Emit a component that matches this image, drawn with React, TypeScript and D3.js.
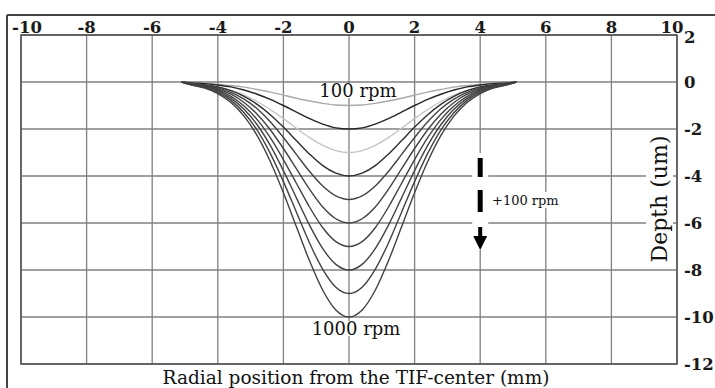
import React from "react";
import * as d3 from "d3";

// Radial sample positions (mm)
const radialPos = [-5.1, -4.8, -4.4, -4.0, -3.6, -3.2, -2.8, -2.4, -2.0, -1.6, -1.2, -0.8, -0.4, 0, 0.4, 0.8, 1.2, 1.6, 2.0, 2.4, 2.8, 3.2, 3.6, 4.0, 4.4, 4.8, 5.1];

// Removal depth (um) per spindle speed
const rpmLabels = ["100 rpm", "200 rpm", "300 rpm", "400 rpm", "500 rpm", "600 rpm", "700 rpm", "800 rpm", "900 rpm", "1000 rpm"];
const d100 = [0, 0.03, 0.06, 0.10, 0.15, 0.22, 0.32, 0.43, 0.56, 0.69, 0.81, 0.91, 0.98, 1.00, 0.98, 0.91, 0.81, 0.69, 0.56, 0.43, 0.32, 0.22, 0.15, 0.10, 0.06, 0.03, 0];
const d200 = [0, 0.04, 0.07, 0.13, 0.21, 0.34, 0.52, 0.74, 1.00, 1.28, 1.56, 1.79, 1.95, 2.00, 1.95, 1.79, 1.56, 1.28, 1.00, 0.74, 0.52, 0.34, 0.21, 0.13, 0.07, 0.04, 0];
const d300 = [0, 0.07, 0.13, 0.22, 0.36, 0.56, 0.83, 1.17, 1.56, 1.97, 2.37, 2.70, 2.92, 3.00, 2.92, 2.70, 2.37, 1.97, 1.56, 1.17, 0.83, 0.56, 0.36, 0.22, 0.13, 0.07, 0];
const d400 = [0, 0.06, 0.12, 0.21, 0.37, 0.61, 0.95, 1.39, 1.92, 2.50, 3.07, 3.56, 3.88, 4.00, 3.88, 3.56, 3.07, 2.50, 1.92, 1.39, 0.95, 0.61, 0.37, 0.21, 0.12, 0.06, 0];
const d500 = [0, 0.07, 0.13, 0.25, 0.44, 0.73, 1.14, 1.69, 2.36, 3.09, 3.81, 4.43, 4.85, 5.00, 4.85, 4.43, 3.81, 3.09, 2.36, 1.69, 1.14, 0.73, 0.44, 0.25, 0.13, 0.07, 0];
const d600 = [0, 0.08, 0.16, 0.29, 0.52, 0.87, 1.37, 2.03, 2.83, 3.70, 4.57, 5.32, 5.82, 6.00, 5.82, 5.32, 4.57, 3.70, 2.83, 2.03, 1.37, 0.87, 0.52, 0.29, 0.16, 0.08, 0];
const d700 = [0, 0.09, 0.18, 0.34, 0.61, 1.02, 1.60, 2.37, 3.30, 4.32, 5.33, 6.20, 6.79, 7.00, 6.79, 6.20, 5.33, 4.32, 3.30, 2.37, 1.60, 1.02, 0.61, 0.34, 0.18, 0.09, 0];
const d800 = [0, 0.10, 0.21, 0.39, 0.70, 1.16, 1.82, 2.70, 3.77, 4.94, 6.10, 7.09, 7.76, 8.00, 7.76, 7.09, 6.10, 4.94, 3.77, 2.70, 1.82, 1.16, 0.70, 0.39, 0.21, 0.10, 0];
const d900 = [0, 0.12, 0.23, 0.44, 0.78, 1.31, 2.05, 3.04, 4.24, 5.55, 6.86, 7.97, 8.73, 9.00, 8.73, 7.97, 6.86, 5.55, 4.24, 3.04, 2.05, 1.31, 0.78, 0.44, 0.23, 0.12, 0];
const d1000 = [0, 0.13, 0.26, 0.49, 0.87, 1.45, 2.28, 3.38, 4.71, 6.17, 7.62, 8.86, 9.70, 10.00, 9.70, 8.86, 7.62, 6.17, 4.71, 3.38, 2.28, 1.45, 0.87, 0.49, 0.26, 0.13, 0];
const depthSeries = [d100, d200, d300, d400, d500, d600, d700, d800, d900, d1000];
const seriesColors = ["#aaaaaa", "#262626", "#c4c4c4", "#2e2e2e", "#424242", "#424242", "#424242", "#424242", "#424242", "#424242"];

// Axis ticks
const xTicks = [-10, -8, -6, -4, -2, 0, 2, 4, 6, 8, 10];
const yTicks = [2, 0, -2, -4, -6, -8, -10, -12];

// Annotation
const arrowX = 4;
const stepLabel = "+100 rpm";

const FONT = "'DejaVu Serif', serif";

export default function App() {
  const x = d3.scaleLinear().domain([-10, 10]).range([21, 677]);
  const y = d3.scaleLinear().domain([-12, 2]).range([364, 35]);

  const line = d3
    .line<number>()
    .x((_, i) => x(radialPos[i]))
    .y((d) => y(-d))
    .curve(d3.curveMonotoneX);

  const xTickDx = (t: number) => (t === -10 ? 6 : t === 10 ? -5 : 0);
  const ax = x(arrowX);

  return (
    <svg
      width={715}
      height={388}
      style={{ position: "absolute", left: 0, top: 0, background: "#fff" }}
      fontFamily={FONT}
    >
      <rect x={0} y={0} width={715} height={388} fill="#fff" />
      {/* outer frame */}
      <line x1={7} y1={15} x2={715} y2={15} stroke="#444" strokeWidth={2} />
      <line x1={7} y1={15} x2={7} y2={388} stroke="#444" strokeWidth={2} />

      {/* grid */}
      {xTicks.map((t) => (
        <line key={"gx" + t} x1={x(t)} x2={x(t)} y1={y(2)} y2={y(-12)} stroke="#808080" strokeWidth={1.3} />
      ))}
      {yTicks.map((t) => (
        <line key={"gy" + t} x1={x(-10)} x2={x(10)} y1={y(t)} y2={y(t)} stroke="#808080" strokeWidth={1.3} />
      ))}
      <rect x={x(-10)} y={y(2)} width={x(10) - x(-10)} height={y(-12) - y(2)} fill="none" stroke="#555" strokeWidth={1.6} />

      {/* tick labels */}
      {xTicks.map((t) => (
        <text key={"tx" + t} x={x(t) + xTickDx(t)} y={33} textAnchor="middle" fontSize={16.5} fontWeight="bold" fill="#1a1a1a">
          {t}
        </text>
      ))}
      {yTicks.map((t) => (
        <text key={"ty" + t} x={684} y={y(t) + (t === 2 ? 2.5 : 0)} dy="0.36em" textAnchor="start" fontSize={16.5} fontWeight="bold" fill="#1a1a1a">
          {t}
        </text>
      ))}

      {/* curves */}
      {depthSeries.map((s, i) => (
        <path key={"c" + i} d={line(s) || ""} fill="none" stroke={seriesColors[i]} strokeWidth={1.4} />
      ))}

      {/* labels on curves */}
      <rect x={318} y={83} width={80} height={15} fill="#fff" />
      <text x={x(0) + 9} y={96.5} textAnchor="middle" fontSize={18} fill="#111">
        {rpmLabels[0]}
      </text>
      <rect x={311} y={321} width={90} height={15} fill="#fff" />
      <text x={x(0) + 7} y={335} textAnchor="middle" fontSize={18} fill="#111">
        {rpmLabels[9]}
      </text>

      {/* step arrow */}
      <rect x={ax - 8} y={153} width={16} height={97} fill="#fff" />
      <rect x={ax - 2.5} y={158} width={5} height={19} fill="#000" />
      <rect x={ax - 2.5} y={190} width={5} height={22} fill="#000" />
      <rect x={ax - 2} y={227} width={4} height={11} fill="#000" />
      <path d={`M${ax - 7},236 L${ax + 7},236 L${ax},250 Z`} fill="#000" />
      <rect x={490} y={192} width={72} height={16} fill="#fff" />
      <text x={492} y={205} fontSize={13} fill="#111">
        {stepLabel}
      </text>

      {/* axis titles */}
      <rect x={646} y={130} width={27} height={138} fill="#fff" />
      <text transform={`translate(667,199) rotate(-90)`} textAnchor="middle" fontSize={22} fill="#111">
        Depth (um)
      </text>
      <text x={356} y={384} textAnchor="middle" fontSize={18.5} fill="#111">
        Radial position from the TIF-center (mm)
      </text>
    </svg>
  );
}
